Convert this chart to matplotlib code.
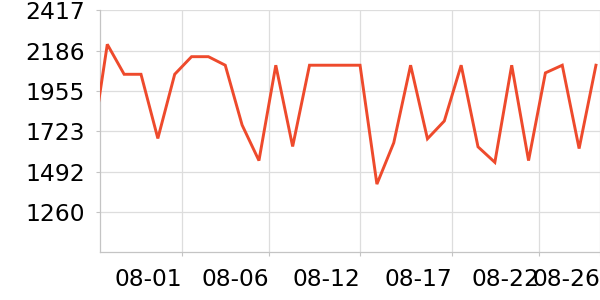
import numpy as np
import matplotlib
matplotlib.use('Agg')
import matplotlib.pyplot as plt

# daily values (first point sits partly outside the plot on the left)
values = [1580, 2222, 2050, 2050, 1682, 2050, 2151, 2151, 2102, 1759,
          1555, 2102, 1636, 2102, 2102, 2102, 2102, 1420, 1657, 2102,
          1680, 1782, 2102, 1634, 1545, 2102, 1555, 2058, 2102, 1624, 2102]
y_ticks = [1260, 1492, 1723, 1955, 2186, 2417]
x_tick_pos = [5.43, 10.60, 16.0, 21.46, 26.62, 30.24]
x_tick_labels = ['08-01', '08-06', '08-12', '08-17', '08-22', '08-26']

x = np.arange(len(values))

fig = plt.figure(figsize=(6, 3), dpi=100)
ax = fig.add_axes([100 / 600, 47.7 / 300, 500 / 600, 242 / 300])

ax.plot(x, values, color='#ee4a2c', linewidth=2.1, solid_joinstyle='miter', zorder=3)

ax.set_xlim(0.567, 30.24)
ax.set_ylim(1029, 2417)
ax.set_yticks(y_ticks)
ax.set_yticklabels([str(v) for v in y_ticks])
ax.set_xticks(x_tick_pos)
ax.set_xticklabels(x_tick_labels, ha='right')

ax.grid(True, color='#dddddd', linewidth=0.9)
ax.set_axisbelow(True)
for side in ['top', 'right']:
    ax.spines[side].set_visible(False)
for side in ['left', 'bottom']:
    ax.spines[side].set_color('#c4c4c4')
    ax.spines[side].set_linewidth(0.9)

ax.tick_params(axis='both', colors='#c4c4c4', labelcolor='black', labelsize=16.8, length=3)
ax.tick_params(axis='y', pad=8)
ax.tick_params(axis='x', pad=8)

plt.savefig('out.png', dpi=100)
